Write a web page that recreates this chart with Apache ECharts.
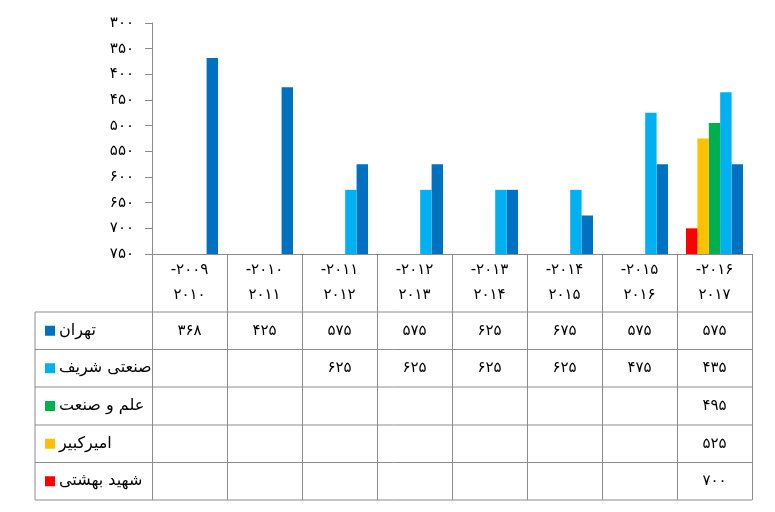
<!DOCTYPE html>
<html><head><meta charset="utf-8">
<script src="https://cdn.jsdelivr.net/npm/echarts@6/dist/echarts.min.js"></script>
<style>html,body{margin:0;padding:0;background:#fff}#c{width:775px;height:512px}</style>
</head><body><div id="c"></div>
<script>
const categories = ['2009-2010','2010-2011','2011-2012','2012-2013','2013-2014','2014-2015','2015-2016','2016-2017'];
const yTicks = [300,350,400,450,500,550,600,650,700,750];
const tehran   = [368,425,575,575,625,675,575,575];
const sharif   = [null,null,625,625,625,625,475,435];
const elm      = [null,null,null,null,null,null,null,495];
const amirkabir= [null,null,null,null,null,null,null,525];
const beheshti = [null,null,null,null,null,null,null,700];
const seriesNames = ['تهران','صنعتی شریف','علم و صنعت','امیرکبیر','شهید بهشتی'];
const seriesData = [tehran, sharif, elm, amirkabir, beheshti];
const colors = ['#0070C0','#00B0F0','#00B050','#FFC000','#FF0000'];
const slots = [4,3,2,1,0];

const FA = '۰۱۲۳۴۵۶۷۸۹';
const toFa = s => String(s).replace(/[0-9]/g, d => FA[d]);
const FONT = 'DejaVu Sans';
const GRID = {left:152, right:23, top:23, bottom:258};
const tableRows = [312, 349.5, 387, 425, 462.5, 500];

const chart = echarts.init(document.getElementById('c'));

function makeRender(slot, color){
  return function(params, api){
    const ci = api.value(0), v = api.value(1);
    const top = api.coord([ci, v]);
    const base = api.coord([ci, yTicks[yTicks.length-1]]);
    const band = api.size([1,0])[0];
    const groupW = band*0.76, bw = groupW/5;
    const x = top[0] - groupW/2 + slot*bw;
    return {type:'rect', shape:{x:x, y:Math.min(top[1],base[1]), width:bw, height:Math.abs(base[1]-top[1])}, style:{fill:color}};
  };
}

const series = seriesData.map((arr,k)=>({
  type:'custom', name:seriesNames[k],
  renderItem: makeRender(slots[k], colors[k]),
  encode:{x:0,y:1},
  data: arr.map((v,i)=>v==null?null:[i,v]).filter(d=>d),
  clip:false
}));

chart.setOption({
  animation:false,
  grid:GRID,
  xAxis:{type:'category', data:categories, boundaryGap:true,
    axisLine:{lineStyle:{color:'#8c8c8c'}},
    axisTick:{show:true, interval:0, length:tableRows[tableRows.length-1]-(512-GRID.bottom), lineStyle:{color:'#8c8c8c'}},
    axisLabel:{interval:0, margin:4, fontFamily:FONT, fontSize:15, color:'#000', lineHeight:25,
      formatter: v => { const p=v.split('-'); return '-'+toFa(p[0])+'\n'+toFa(p[1]); }}
  },
  yAxis:{type:'value', inverse:true, min:yTicks[0], max:yTicks[yTicks.length-1], interval:50,
    axisLine:{show:true, lineStyle:{color:'#8c8c8c'}},
    axisTick:{show:true, length:7, lineStyle:{color:'#8c8c8c'}},
    splitLine:{show:false},
    axisLabel:{margin:18, fontFamily:FONT, fontSize:15, color:'#000', formatter:v=>toFa(v)}
  },
  series:series
});

const gfx = [];
const L = 35, R = 775-GRID.right;
tableRows.forEach(y=>gfx.push({type:'line', shape:{x1:L,y1:y,x2:R,y2:y}, style:{stroke:'#8c8c8c', lineWidth:1}}));
gfx.push({type:'line', shape:{x1:L,y1:tableRows[0],x2:L,y2:tableRows[tableRows.length-1]}, style:{stroke:'#8c8c8c', lineWidth:1}});
for(let r=0;r<5;r++){
  const yc = (tableRows[r]+tableRows[r+1])/2;
  gfx.push({type:'rect', shape:{x:45,y:yc-5,width:10,height:10}, style:{fill:colors[r]}});
  gfx.push({type:'text', x:59, y:yc, style:{text:seriesNames[r], font:'16px '+FONT, fill:'#000', textAlign:'left', textVerticalAlign:'middle'}});
  seriesData[r].forEach((v,i)=>{
    if(v==null) return;
    const px = chart.convertToPixel({xAxisIndex:0}, i);
    gfx.push({type:'text', x:px, y:yc, style:{text:toFa(v), font:'15px '+FONT, fill:'#000', textAlign:'center', textVerticalAlign:'middle'}});
  });
}
chart.setOption({graphic:gfx});
</script></body></html>
